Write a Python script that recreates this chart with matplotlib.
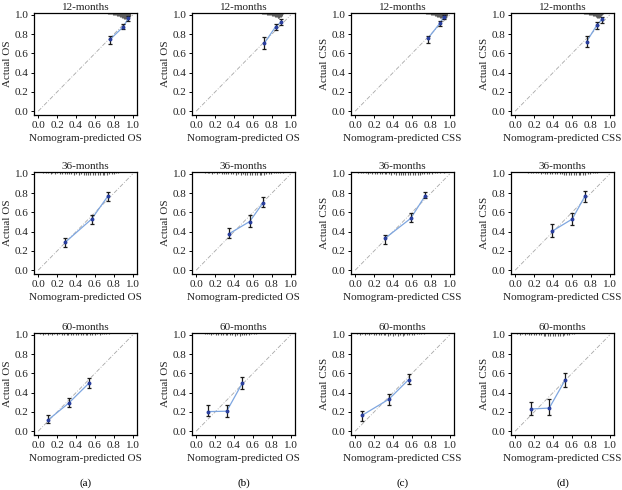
import matplotlib
matplotlib.use("Agg")
import matplotlib.pyplot as plt

plt.rcParams['font.family'] = ['Liberation Serif', 'DejaVu Serif']

# ---- data (columns a, b, c, d) ----
months = ['12-months', '36-months', '60-months']
endpoints = ['OS', 'OS', 'CSS', 'CSS']
panel_tags = ['(a)', '(b)', '(c)', '(d)']

# 12 months
pred_12 = [[0.76, 0.90, 0.955], [0.72, 0.84, 0.90], [0.77, 0.895, 0.935], [0.755, 0.865, 0.918]]
obs_12 = [[0.745, 0.877, 0.965], [0.705, 0.878, 0.927], [0.757, 0.913, 0.976], [0.722, 0.896, 0.955]]
lo_12 = [[0.70, 0.85, 0.94], [0.65, 0.84, 0.90], [0.71, 0.885, 0.955], [0.67, 0.85, 0.92]]
hi_12 = [[0.78, 0.905, 0.99], [0.77, 0.91, 0.955], [0.78, 0.935, 0.997], [0.78, 0.927, 0.975]]

# 36 months
pred_36 = [[0.283, 0.565, 0.735], [0.35, 0.565, 0.707], [0.314, 0.587, 0.74], [0.387, 0.603, 0.736]]
obs_36 = [[0.288, 0.531, 0.767], [0.38, 0.505, 0.70], [0.33, 0.538, 0.774], [0.403, 0.531, 0.767]]
lo_36 = [[0.236, 0.48, 0.72], [0.33, 0.45, 0.66], [0.27, 0.50, 0.747], [0.347, 0.47, 0.71]]
hi_36 = [[0.33, 0.573, 0.81], [0.44, 0.575, 0.76], [0.365, 0.594, 0.816], [0.479, 0.594, 0.82]]

# 60 months
pred_60 = [[0.10, 0.325, 0.536], [0.12, 0.322, 0.488], [0.07, 0.356, 0.565], [0.164, 0.36, 0.53]]
obs_60 = [[0.113, 0.294, 0.498], [0.203, 0.207, 0.50], [0.163, 0.332, 0.536], [0.23, 0.24, 0.535]]
lo_60 = [[0.08, 0.25, 0.447], [0.153, 0.146, 0.44], [0.11, 0.27, 0.485], [0.163, 0.163, 0.46]]
hi_60 = [[0.164, 0.345, 0.55], [0.27, 0.27, 0.56], [0.207, 0.383, 0.597], [0.30, 0.33, 0.60]]

# distribution of predicted values (rug at the top), position and spike height
rug_x_12 = [
    [0.74, 0.75, 0.76, 0.77, 0.78, 0.79, 0.80, 0.81, 0.82, 0.83, 0.84, 0.85, 0.86, 0.87, 0.88, 0.89, 0.90, 0.91, 0.92, 0.93, 0.94, 0.95, 0.96, 0.97],
    [0.70, 0.71, 0.72, 0.73, 0.74, 0.75, 0.76, 0.77, 0.78, 0.79, 0.80, 0.81, 0.82, 0.83, 0.84, 0.85, 0.86, 0.87, 0.88, 0.89, 0.90, 0.91, 0.92],
    [0.75, 0.76, 0.77, 0.78, 0.79, 0.80, 0.81, 0.82, 0.83, 0.84, 0.85, 0.86, 0.87, 0.88, 0.89, 0.90, 0.91, 0.92, 0.93, 0.94, 0.95, 0.96, 0.97],
    [0.73, 0.74, 0.75, 0.76, 0.77, 0.78, 0.79, 0.80, 0.81, 0.82, 0.83, 0.84, 0.85, 0.86, 0.87, 0.88, 0.89, 0.90, 0.91, 0.92, 0.93],
]
rug_h_12 = [
    [0.006, 0.008, 0.010, 0.012, 0.014, 0.016, 0.018, 0.020, 0.023, 0.026, 0.029, 0.032, 0.036, 0.040, 0.044, 0.048, 0.053, 0.058, 0.062, 0.066, 0.068, 0.062, 0.048, 0.026],
    [0.006, 0.008, 0.010, 0.012, 0.014, 0.016, 0.018, 0.020, 0.022, 0.025, 0.028, 0.031, 0.034, 0.038, 0.042, 0.046, 0.050, 0.052, 0.050, 0.046, 0.038, 0.026, 0.012],
    [0.006, 0.008, 0.010, 0.012, 0.014, 0.016, 0.018, 0.021, 0.024, 0.027, 0.030, 0.034, 0.038, 0.042, 0.046, 0.050, 0.055, 0.060, 0.064, 0.066, 0.060, 0.048, 0.026],
    [0.006, 0.008, 0.010, 0.012, 0.014, 0.016, 0.019, 0.022, 0.025, 0.028, 0.032, 0.036, 0.040, 0.044, 0.048, 0.050, 0.048, 0.042, 0.032, 0.020, 0.010],
]
rug_x_36 = [
    [0.05, 0.08, 0.10, 0.13, 0.15, 0.18, 0.20, 0.23, 0.25, 0.28, 0.30, 0.33, 0.35, 0.38, 0.40, 0.43, 0.45, 0.48, 0.50,
     0.53, 0.55, 0.58, 0.60, 0.63, 0.65, 0.68, 0.70, 0.73, 0.75, 0.78, 0.80, 0.82, 0.84],
    [0.09, 0.12, 0.14, 0.17, 0.19, 0.22, 0.24, 0.27, 0.29, 0.32, 0.34, 0.37, 0.39, 0.42, 0.44, 0.47, 0.49, 0.52, 0.54,
     0.57, 0.59, 0.62, 0.64, 0.67, 0.69, 0.72, 0.74, 0.77, 0.79, 0.82, 0.84, 0.87, 0.89, 0.92],
    [0.03, 0.06, 0.08, 0.11, 0.13, 0.16, 0.18, 0.21, 0.23, 0.26, 0.28, 0.31, 0.33, 0.36, 0.38, 0.41, 0.43, 0.46, 0.48, 0.51,
     0.53, 0.56, 0.58, 0.61, 0.63, 0.66, 0.68, 0.71, 0.73, 0.76, 0.78, 0.81, 0.84, 0.87, 0.90, 0.94],
    [0.14, 0.17, 0.19, 0.22, 0.24, 0.27, 0.29, 0.32, 0.34, 0.37, 0.39, 0.42, 0.44, 0.47, 0.49, 0.52, 0.54,
     0.57, 0.59, 0.62, 0.64, 0.67, 0.69, 0.72, 0.74, 0.77, 0.79, 0.82, 0.84, 0.86],
]
rug_h_36 = [
    [0.010, 0.014, 0.008, 0.016, 0.012, 0.018, 0.014, 0.020, 0.016, 0.022, 0.018, 0.024, 0.020, 0.026, 0.022, 0.028, 0.024,
     0.030, 0.026, 0.032, 0.028, 0.034, 0.030, 0.036, 0.032, 0.034, 0.030, 0.028, 0.024, 0.020, 0.016, 0.012, 0.008],
    [0.010, 0.014, 0.010, 0.016, 0.012, 0.018, 0.014, 0.020, 0.016, 0.022, 0.018, 0.024, 0.020, 0.026, 0.022, 0.028, 0.024,
     0.030, 0.026, 0.032, 0.030, 0.034, 0.030, 0.032, 0.028, 0.026, 0.022, 0.020, 0.016, 0.014, 0.012, 0.010, 0.008, 0.006],
    [0.010, 0.012, 0.014, 0.012, 0.016, 0.014, 0.018, 0.016, 0.020, 0.018, 0.022, 0.020, 0.024, 0.022, 0.026, 0.024, 0.028,
     0.026, 0.030, 0.028, 0.032, 0.030, 0.034, 0.032, 0.034, 0.030, 0.028, 0.024, 0.022, 0.020, 0.018, 0.016, 0.014, 0.012,
     0.010, 0.008],
    [0.008, 0.010, 0.012, 0.014, 0.012, 0.016, 0.014, 0.018, 0.016, 0.020, 0.018, 0.022, 0.020, 0.024, 0.022, 0.026, 0.028,
     0.030, 0.032, 0.034, 0.036, 0.034, 0.032, 0.030, 0.026, 0.022, 0.018, 0.014, 0.010, 0.008],
]
rug_x_60 = [
    [0.02, 0.05, 0.07, 0.10, 0.12, 0.15, 0.17, 0.20, 0.22, 0.25, 0.27, 0.30, 0.32, 0.35, 0.37, 0.40, 0.42, 0.45, 0.47,
     0.50, 0.52, 0.55, 0.57, 0.60, 0.62, 0.65, 0.67, 0.70, 0.72, 0.75],
    [0.09, 0.11, 0.13, 0.16, 0.18, 0.21, 0.23, 0.26, 0.28, 0.31, 0.33, 0.36, 0.38, 0.41, 0.43, 0.46, 0.48, 0.51,
     0.53, 0.56, 0.58, 0.61, 0.63],
    [0.02, 0.05, 0.07, 0.10, 0.12, 0.15, 0.17, 0.20, 0.22, 0.25, 0.27, 0.30, 0.32, 0.35, 0.37, 0.40, 0.42, 0.45, 0.47,
     0.50, 0.52, 0.55, 0.57, 0.60, 0.62, 0.65, 0.67, 0.70, 0.73],
    [0.02, 0.05, 0.07, 0.10, 0.12, 0.15, 0.17, 0.20, 0.22, 0.25, 0.27, 0.30, 0.32, 0.35, 0.37, 0.40, 0.42, 0.45, 0.47,
     0.50, 0.52, 0.55, 0.57, 0.60, 0.62],
]
rug_h_60 = [
    [0.010, 0.016, 0.012, 0.018, 0.014, 0.016, 0.012, 0.018, 0.014, 0.020, 0.016, 0.022, 0.018, 0.020, 0.016, 0.022, 0.018,
     0.024, 0.020, 0.022, 0.018, 0.020, 0.016, 0.018, 0.014, 0.016, 0.012, 0.010, 0.008, 0.006],
    [0.010, 0.014, 0.012, 0.016, 0.014, 0.018, 0.016, 0.020, 0.018, 0.022, 0.020, 0.024, 0.022, 0.026, 0.024, 0.028, 0.024,
     0.022, 0.018, 0.016, 0.012, 0.010, 0.006],
    [0.010, 0.016, 0.012, 0.018, 0.014, 0.018, 0.014, 0.020, 0.016, 0.022, 0.018, 0.024, 0.020, 0.026, 0.022, 0.028, 0.024,
     0.030, 0.024, 0.028, 0.022, 0.024, 0.018, 0.020, 0.016, 0.014, 0.012, 0.010, 0.006],
    [0.010, 0.016, 0.012, 0.018, 0.014, 0.020, 0.016, 0.022, 0.018, 0.024, 0.020, 0.026, 0.030, 0.028, 0.034, 0.030, 0.036,
     0.032, 0.034, 0.028, 0.024, 0.020, 0.016, 0.012, 0.008],
]

rows = [
    (pred_12, obs_12, lo_12, hi_12, rug_x_12, rug_h_12),
    (pred_36, obs_36, lo_36, hi_36, rug_x_36, rug_h_36),
    (pred_60, obs_60, lo_60, hi_60, rug_x_60, rug_h_60),
]

# ---- layout (pixels in a 622x490 canvas) ----
W, H = 622, 490
col_left = [34, 192, 351, 511]
row_top = [13, 172, 333]
ax_w, ax_h = 103, 102
YTOP = 1.02
ticks = [0.0, 0.2, 0.4, 0.6, 0.8, 1.0]
tick_lbl = ['0.0', '0.2', '0.4', '0.6', '0.8', '1.0']

fig = plt.figure(figsize=(W / 100, H / 100), dpi=100)

for r, (pred, obs, lo, hi, rug_x, rug_h) in enumerate(rows):
    for c in range(4):
        ax = fig.add_axes([col_left[c] / W, 1 - (row_top[r] + ax_h) / H,
                           ax_w / W, ax_h / H])
        ax.set_xlim(-0.045, 1.045)
        ax.set_ylim(-0.04, YTOP)

        # ideal line
        ax.plot([0, 1], [0, 1], color='#a8a8a8', lw=0.6, ls=(0, (5, 2, 1, 2)))

        # rug of predicted risks hanging from the top
        ax.vlines(rug_x[c], [YTOP - h for h in rug_h[c]], YTOP,
                  color='#5e5e5e', lw=0.8)

        # observed vs predicted
        ax.plot(pred[c], obs[c], color='#7ea6e0', lw=0.9)
        yerr = [[o - l for o, l in zip(obs[c], lo[c])],
                [h - o for o, h in zip(obs[c], hi[c])]]
        ax.errorbar(pred[c], obs[c], yerr=yerr, fmt='none', ecolor='#1a1a1a',
                    elinewidth=0.9, capsize=1.3, capthick=0.9)
        ax.plot(pred[c], obs[c], 'o', color='#2a3f9e', ms=1.8)

        ax.set_xticks(ticks)
        ax.set_xticklabels(tick_lbl)
        ax.set_yticks(ticks)
        ax.set_yticklabels(tick_lbl)
        ax.tick_params(labelsize=8, length=2.5, width=0.7, pad=1.5,
                       labelcolor='#222222')
        for sp in ax.spines.values():
            sp.set_linewidth(0.9)

        ax.set_title(months[r], fontsize=8, pad=2.5, color='#222222')
        ax.set_xlabel('Nomogram-predicted ' + endpoints[c], fontsize=8, labelpad=3,
                      color='#222222')
        ax.set_ylabel('Actual ' + endpoints[c], fontsize=8, labelpad=2,
                      color='#222222')

        if r == 2:
            ax.text(0.5, -0.47, panel_tags[c], transform=ax.transAxes,
                    ha='center', va='center', fontsize=8)

fig.savefig('out.png', dpi=100)
